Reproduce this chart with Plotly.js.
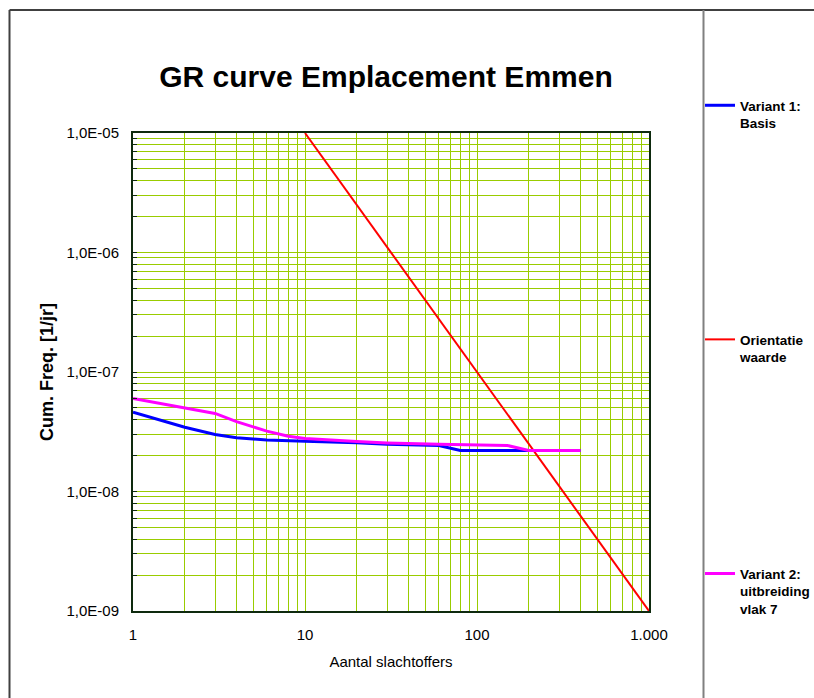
<!DOCTYPE html>
<html>
<head>
<meta charset="utf-8">
<script src="https://cdn.plot.ly/plotly-3.0.1.min.js"></script>
<style>html,body{margin:0;padding:0;background:#fff;}#chart{width:814px;height:698px;}</style>
</head>
<body>
<div id="chart"></div>
<script>
// ---- data ----
var blueX = [1, 2, 3, 4, 5, 6, 10, 20, 30, 60, 80, 200, 400];
var blueY = [4.6e-8, 3.45e-8, 3.0e-8, 2.82e-8, 2.75e-8, 2.7e-8, 2.63e-8, 2.56e-8, 2.48e-8, 2.43e-8, 2.2e-8, 2.2e-8, 2.2e-8];
var magX = [1, 2, 3, 4, 5, 6, 8, 10, 20, 30, 60, 150, 200, 400];
var magY = [6.0e-8, 5.0e-8, 4.5e-8, 3.84e-8, 3.5e-8, 3.2e-8, 2.9e-8, 2.78e-8, 2.62e-8, 2.55e-8, 2.48e-8, 2.43e-8, 2.2e-8, 2.2e-8];
var redX = [10, 1000];
var redY = [1e-5, 1e-9];
var names = ["Variant 1:<br>Basis", "Orientatie<br>waarde", "Variant 2:<br>uitbreiding<br>vlak 7"];
var xDecades = [1, 10, 100, 1000];
var xDecadeText = ["1", "10", "100", "1.000"];
var yDecades = [1e-9, 1e-8, 1e-7, 1e-6, 1e-5];
var yDecadeText = ["1,0E-09", "1,0E-08", "1,0E-07", "1,0E-06", "1,0E-05"];

// grid positions 1..9 in each decade, labels only on decades
function gridTicks(decades, labels) {
  var vals = [], txt = [];
  for (var i = 0; i < decades.length; i++) {
    vals.push(decades[i]); txt.push(labels[i]);
    if (i < decades.length - 1) {
      for (var d = 2; d <= 9; d++) { vals.push(d * decades[i]); txt.push(""); }
    }
  }
  return {vals: vals, txt: txt};
}
var xg = gridTicks(xDecades, xDecadeText);
var yg = gridTicks(yDecades, yDecadeText);

var FONT = "Arial, 'Liberation Sans', sans-serif";
var GRID = "#99cc00";
var AXC = "#0e2a0e";

var traces = [
  {x: blueX, y: blueY, name: "<b>" + names[0] + "</b>", type: "scatter", mode: "lines", legendgroup: "a",
   line: {color: "#0000ff", width: 3}},
  {x: redX, y: redY, name: "<b>" + names[1] + "</b>", type: "scatter", mode: "lines", legendgroup: "b",
   line: {color: "#ff0000", width: 2}},
  {x: magX, y: magY, name: "<b>" + names[2] + "</b>", type: "scatter", mode: "lines", legendgroup: "c",
   line: {color: "#ff00ff", width: 3}}
];

var W = 516, H = 478, L = 133, T = 133;
function px(xp) { return (xp - L) / W; }
function py(yp) { return (T + H - yp) / H; }

var layout = {
  width: 814, height: 698,
  margin: {l: L, r: 814 - L - W, t: T, b: 698 - T - H, pad: 0, autoexpand: false},
  paper_bgcolor: "#ffffff", plot_bgcolor: "#ffffff",
  showlegend: true,
  title: {text: "<b>GR curve Emplacement Emmen</b>", font: {family: FONT, size: 30, color: "#000"},
          x: 386 / 814, xanchor: "center", y: 1 - 76 / 698, yanchor: "middle"},
  xaxis: {
    type: "log", range: [0, 3],
    tickmode: "array", tickvals: xg.vals, ticktext: xg.txt,
    ticks: "", ticklabelstandoff: 9,
    showgrid: true, gridcolor: GRID, gridwidth: 1,
    showline: true, linecolor: AXC, linewidth: 2, mirror: true,
    zeroline: false,
    tickfont: {family: FONT, size: 15, color: "#000"},
    title: {text: "Aantal slachtoffers", font: {family: FONT, size: 15, color: "#000"}, standoff: 14}
  },
  yaxis: {
    type: "log", range: [-9, -5],
    tickmode: "array", tickvals: yg.vals, ticktext: yg.txt,
    ticks: "inside", ticklen: 4, tickcolor: AXC, ticklabelstandoff: 9,
    showgrid: true, gridcolor: GRID, gridwidth: 1,
    showline: true, linecolor: AXC, linewidth: 2, mirror: true,
    zeroline: false,
    tickfont: {family: FONT, size: 15, color: "#000"},
    title: {text: "<b>Cum. Freq. [1/jr]</b>", font: {family: FONT, size: 18, color: "#000"}, standoff: 8}
  },
  legend: {
    x: px(700), xanchor: "left", y: py(90), yanchor: "top",
    valign: "top", bgcolor: "rgba(0,0,0,0)", borderwidth: 0,
    tracegroupgap: 196, maxheight: 690,
    font: {family: FONT, size: 13.5, color: "#000"},
    itemclick: false
  },
  shapes: [
    {type: "line", xref: "paper", yref: "paper", x0: px(9.5), x1: px(9.5), y0: py(10), y1: py(700),
     line: {color: "#404040", width: 2}},
    {type: "line", xref: "paper", yref: "paper", x0: px(9.5), x1: px(816), y0: py(10), y1: py(10),
     line: {color: "#404040", width: 2}},
    {type: "line", xref: "paper", yref: "paper", x0: px(703.5), x1: px(703.5), y0: py(10), y1: py(700),
     line: {color: "#808080", width: 2}}
  ]
};

Plotly.newPlot("chart", traces, layout, {staticPlot: true, displayModeBar: false});
</script>
</body>
</html>
